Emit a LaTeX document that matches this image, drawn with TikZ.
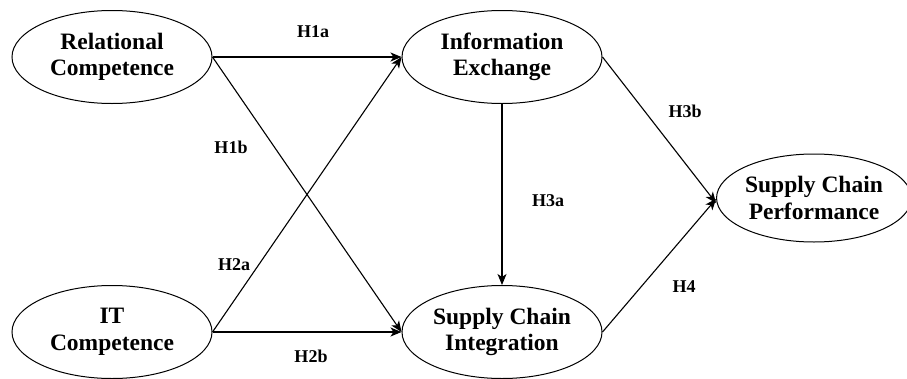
\documentclass[tikz,border=0pt]{standalone}
\usepackage{fontspec}
\setmainfont{Liberation Serif}
\usetikzlibrary{shapes.geometric,arrows.meta}
\begin{document}
\begin{tikzpicture}[x=1pt,y=-1pt,
  construct/.style={draw,ellipse,line width=1pt,inner sep=0pt,minimum width=200pt,minimum height=93pt,
    align=center,font=\fontsize{23.5}{26.5}\selectfont\bfseries},
  link/.style={draw,line width=1.1pt,-{Stealth[length=11pt,width=9pt,inset=3pt]}},
  hyp/.style={font=\fontsize{18}{20}\selectfont\bfseries,inner sep=0pt}]
\useasboundingbox (0,0) rectangle (907,378);
\node[construct] (rc) at (112,57) {Relational\\Competence};
\node[construct] (it) at (112,332) {IT\\Competence};
\node[construct] (ie) at (502,57) {Information\\Exchange};
\node[construct] (sci) at (502,332) {Supply Chain\\Integration};
\node[construct,minimum width=183pt,minimum height=88pt] (scp) at (814,198) {Supply Chain\\Performance};
\draw[link] (rc.east) -- (ie.west);
\draw[link] (rc.east) -- (sci.west);
\draw[link] (it.east) -- (ie.west);
\draw[link] (it.east) -- (sci.west);
\draw[link] (ie.south) -- (sci.north);
\draw[link] (ie.east) -- ([yshift=-5pt]scp.west);
\draw[link] (sci.east) -- ([yshift=-1pt]scp.west);
\node[hyp] (h1a) at (313,32) {H1a};
\node[hyp] (h1b) at (231,147) {H1b};
\node[hyp] (h2a) at (234,265) {H2a};
\node[hyp] (h2b) at (311,356) {H2b};
\node[hyp] (h3a) at (548,201) {H3a};
\node[hyp] (h3b) at (685,111) {H3b};
\node[hyp] (h4) at (684,287) {H4};
\end{tikzpicture}
\end{document}
